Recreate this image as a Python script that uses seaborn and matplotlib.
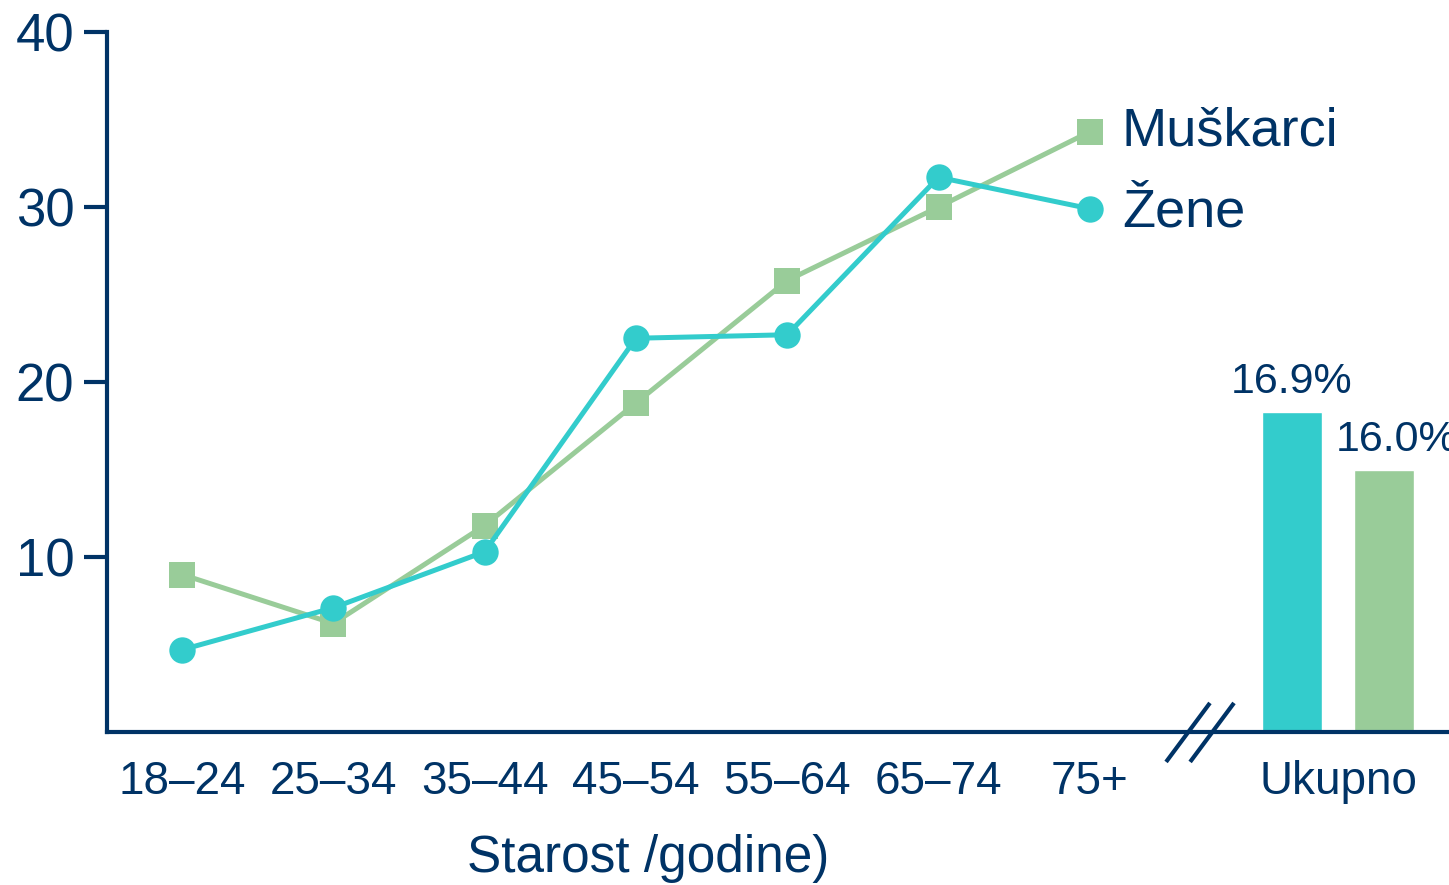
import numpy as np
import pandas as pd
import matplotlib
matplotlib.use("Agg")
import matplotlib.pyplot as plt
import seaborn as sns

ages = ["18–24", "25–34", "35–44", "45–54", "55–64", "65–74", "75+"]
muskarci = [9.0, 6.2, 11.8, 18.8, 25.8, 30.0, 34.3]
zene = [4.7, 7.1, 10.3, 22.5, 22.7, 31.7, 29.9]
series_names = ["Muškarci", "Žene"]
total_heights = [18.3, 15.0]  # Žene, Muškarci as drawn
total_labels = ["16.9%", "16.0%"]
total_name = "Ukupno"
yticks = [10, 20, 30, 40]

navy = "#003366"
teal = "#33CCCC"
green = "#99CC99"

sns.set_style("white")
plt.rcParams["font.family"] = ["Liberation Sans", "DejaVu Sans"]

df = pd.DataFrame({
    "pos": list(range(len(ages))) * 2,
    "value": muskarci + zene,
    "spol": [series_names[0]] * len(ages) + [series_names[1]] * len(ages),
})

fig = plt.figure(figsize=(14.49, 8.85), dpi=100)
ax = fig.add_axes([107 / 1449, 153 / 885, 1342 / 1449, 700 / 885])

sns.lineplot(data=df, x="pos", y="value", hue="spol", style="spol",
             palette={series_names[0]: green, series_names[1]: teal},
             markers={series_names[0]: "s", series_names[1]: "o"},
             dashes=False, linewidth=3.6, markersize=19, markeredgewidth=0,
             legend=False, ax=ax, zorder=3)

# totals
bar_x = [7.336, 7.944]
ax.bar(bar_x, total_heights, width=0.397, color=[teal, green], zorder=2)
for x, h, lab, dx in zip(bar_x, total_heights, total_labels, [0, 9]):
    ax.annotate(lab, xy=(x, h), xytext=(dx, 7), textcoords="offset points",
                ha="center", va="bottom", fontsize=31, color=navy)

# end labels next to last points
for vals, name, dy in zip([muskarci, zene], series_names, [0, -3]):
    ax.annotate(name, xy=(len(ages) - 1, vals[-1]), xytext=(23, dy),
                textcoords="offset points", ha="left", va="center",
                fontsize=39, color=navy)

ax.set_xlim(-0.496, 8.374)
ax.set_ylim(0, 40)
ax.set_yticks(yticks)
ax.set_yticklabels([str(t) for t in yticks])
ax.set_xticks(list(range(len(ages))) + [7.64])
ax.set_xticklabels(ages + [total_name])
ax.tick_params(axis="y", length=16.5, width=3, color=navy, labelsize=38,
               labelcolor=navy, pad=7, direction="out", left=True)
ax.tick_params(axis="x", length=0, labelsize=33, labelcolor=navy, pad=20)

for s in ["top", "right"]:
    ax.spines[s].set_visible(False)
for s in ["left", "bottom"]:
    ax.spines[s].set_color(navy)
    ax.spines[s].set_linewidth(3)

# axis break marks
for dx in [0, 0.159]:
    ax.plot([6.504 + dx, 6.794 + dx], [-1.71, 1.66], color=navy, lw=3,
            clip_on=False, solid_capstyle="butt", zorder=5)

ax.set_xlabel("Starost /godine)", fontsize=37, color=navy)
ax.xaxis.set_label_coords(0.403, -0.146)
ax.set_ylabel("")

fig.savefig("out.png", dpi=100)
